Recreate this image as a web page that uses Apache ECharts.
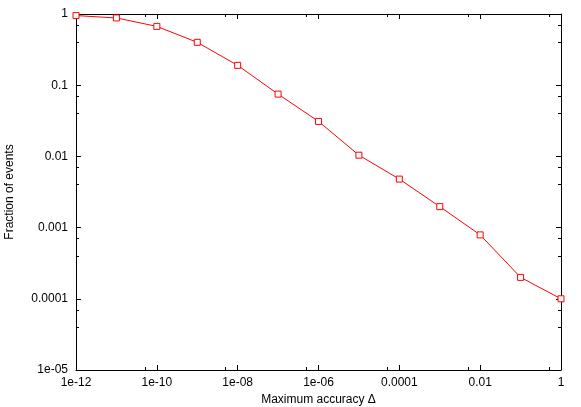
<!DOCTYPE html>
<html>
<head>
<meta charset="utf-8">
<script src="https://cdn.jsdelivr.net/npm/echarts@6/dist/echarts.min.js"></script>
<style>
  html, body { margin: 0; padding: 0; background: #fff; }
  #chart { width: 581px; height: 407px; }
</style>
</head>
<body>
<div id="chart"></div>
<script>
// data
const accuracy = [1e-12, 1e-11, 1e-10, 1e-9, 1e-8, 1e-7, 1e-6, 1e-5, 1e-4, 1e-3, 1e-2, 1e-1, 1]
const fraction = [0.95, 0.88, 0.67, 0.40, 0.19, 0.075, 0.031, 0.0104, 0.0048, 0.00197, 0.00079, 0.0002, 0.0001]

// tick labels, indexed by decade exponent
const xTickLabels = { '-12': '1e-12', '-10': '1e-10', '-8': '1e-08', '-6': '1e-06', '-4': '0.0001', '-2': '0.01', '0': '1' }
const yTickLabels = { '0': '1', '-1': '0.1', '-2': '0.01', '-3': '0.001', '-4': '0.0001', '-5': '1e-05' }

const font = 'Liberation Sans'
const exp = (v) => String(Math.round(Math.log10(v)))

const chart = echarts.init(document.getElementById('chart'), null, { renderer: 'canvas' })

const xBase = {
  type: 'log',
  logBase: 10,
  min: 1e-12,
  max: 1,
  interval: 2,
  axisLine: { show: true, onZero: false, lineStyle: { color: '#000', width: 1 } },
  axisTick: { show: true, inside: true, length: 5, lineStyle: { color: '#000' } },
  minorTick: { show: true, splitNumber: 2, length: 3, lineStyle: { color: '#000' } },
  splitLine: { show: false },
  minorSplitLine: { show: false }
}
const yBase = {
  type: 'log',
  logBase: 10,
  min: 1e-5,
  max: 1,
  interval: 1,
  axisLine: { show: true, onZero: false, lineStyle: { color: '#000', width: 1 } },
  axisTick: { show: true, inside: true, length: 5, lineStyle: { color: '#000' } },
  minorTick: { show: true, splitNumber: 3, length: 3, lineStyle: { color: '#000' } },
  splitLine: { show: false },
  minorSplitLine: { show: false }
}

chart.setOption({
  animation: false,
  grid: { left: 76, right: 20, top: 14, bottom: 37, containLabel: false, outerBoundsMode: 'none' },
  xAxis: [
    {
      ...xBase,
      position: 'bottom',
      name: 'Maximum accuracy Δ',
      nameLocation: 'middle',
      nameGap: 22,
      nameTextStyle: { color: '#000', fontFamily: font, fontSize: 12 },
      axisLabel: {
        color: '#000', fontFamily: font, fontSize: 12, margin: 7,
        formatter: (v) => xTickLabels[exp(v)] || ''
      }
    },
    { ...xBase, position: 'top', axisLabel: { show: false } }
  ],
  yAxis: [
    {
      ...yBase,
      position: 'left',
      name: 'Fraction of events',
      nameLocation: 'middle',
      nameRotate: 90,
      nameGap: 60,
      nameTextStyle: { color: '#000', fontFamily: font, fontSize: 12 },
      axisLabel: {
        color: '#000', fontFamily: font, fontSize: 12, margin: 8,
        formatter: (v) => yTickLabels[exp(v)] || ''
      }
    },
    { ...yBase, position: 'right', axisLabel: { show: false } }
  ],
  series: [
    {
      type: 'line',
      data: accuracy.map((x, i) => [x, fraction[i]]),
      symbol: 'rect',
      symbolSize: 6,
      showAllSymbol: true,
      itemStyle: { color: '#fff', borderColor: '#ff0000', borderWidth: 1 },
      lineStyle: { color: '#ff0000', width: 1 }
    }
  ]
})
</script>
</body>
</html>
